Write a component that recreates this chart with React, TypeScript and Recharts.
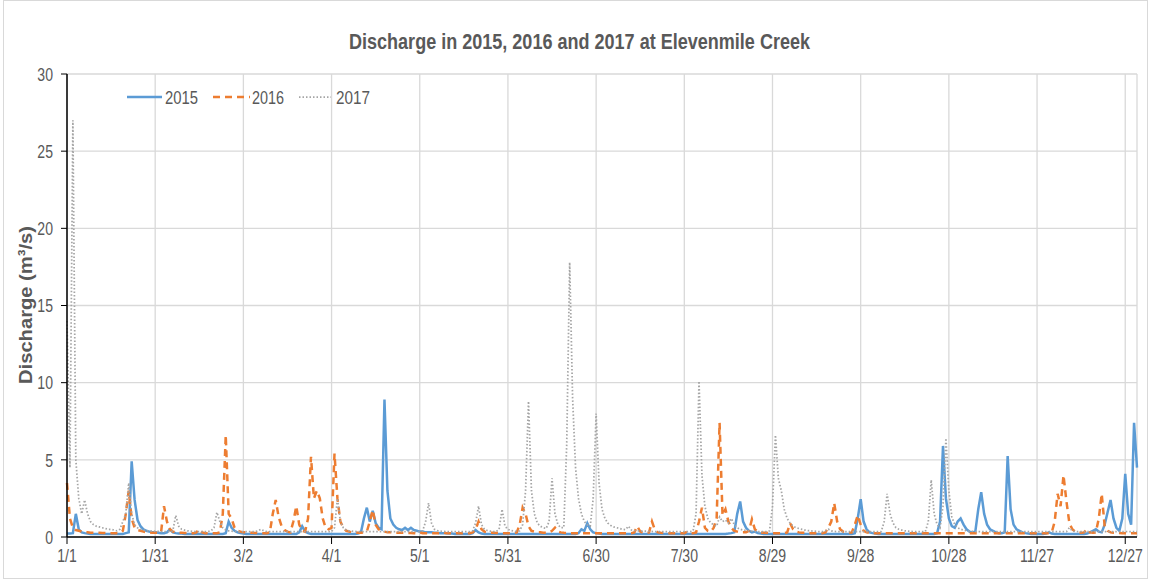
import { LineChart, Line, XAxis, YAxis, CartesianGrid } from "recharts";

// daily discharge (m3/s), day 0 = 1/1
const s2015 = [
  /*0*/ 0.22, 0.22, 0.25, 1.5, 0.5, 0.3, 0.25, 0.22, 0.2, 0.2,
  /*10*/ 0.2, 0.2, 0.2, 0.2, 0.2, 0.2, 0.2, 0.2, 0.2, 0.2,
  /*20*/ 0.25, 0.3, 4.9, 2.4, 1.1, 0.7, 0.5, 0.4, 0.35, 0.3,
  /*30*/ 0.3, 0.28, 0.25, 0.25, 0.3, 0.5, 0.3, 0.25, 0.22, 0.22,
  /*40*/ 0.2, 0.2, 0.2, 0.2, 0.2, 0.2, 0.2, 0.2, 0.2, 0.2,
  /*50*/ 0.2, 0.2, 0.2, 0.2, 0.25, 1.0, 0.6, 0.4, 0.3, 0.25,
  /*60*/ 0.22, 0.2, 0.2, 0.2, 0.2, 0.2, 0.2, 0.2, 0.2, 0.2,
  /*70*/ 0.2, 0.2, 0.2, 0.2, 0.2, 0.2, 0.2, 0.2, 0.2, 0.3,
  /*80*/ 0.7, 0.35, 0.25, 0.2, 0.2, 0.2, 0.2, 0.2, 0.2, 0.2,
  /*90*/ 0.2, 0.2, 0.2, 0.2, 0.2, 0.2, 0.2, 0.2, 0.2, 0.22,
  /*100*/ 0.3, 1.2, 1.9, 1.0, 1.7, 0.9, 0.6, 0.5, 8.9, 3.0,
  /*110*/ 1.2, 0.8, 0.6, 0.5, 0.45, 0.6, 0.45, 0.6, 0.45, 0.4,
  /*120*/ 0.35, 0.35, 0.3, 0.3, 0.3, 0.28, 0.28, 0.25, 0.25, 0.25,
  /*130*/ 0.22, 0.22, 0.2, 0.2, 0.2, 0.2, 0.2, 0.2, 0.25, 0.45,
  /*140*/ 0.3, 0.22, 0.2, 0.2, 0.2, 0.2, 0.2, 0.2, 0.2, 0.2,
  /*150*/ 0.2, 0.2, 0.2, 0.2, 0.2, 0.2, 0.2, 0.2, 0.2, 0.2,
  /*160*/ 0.2, 0.2, 0.2, 0.2, 0.2, 0.2, 0.2, 0.2, 0.2, 0.2,
  /*170*/ 0.2, 0.2, 0.2, 0.2, 0.25, 0.5, 0.4, 0.9, 0.5, 0.3,
  /*180*/ 0.25, 0.22, 0.2, 0.2, 0.2, 0.2, 0.2, 0.2, 0.2, 0.2,
  /*190*/ 0.2, 0.2, 0.2, 0.2, 0.2, 0.2, 0.2, 0.2, 0.2, 0.2,
  /*200*/ 0.2, 0.2, 0.2, 0.2, 0.2, 0.2, 0.2, 0.2, 0.2, 0.2,
  /*210*/ 0.2, 0.2, 0.2, 0.2, 0.2, 0.2, 0.2, 0.2, 0.2, 0.2,
  /*220*/ 0.2, 0.2, 0.2, 0.2, 0.2, 0.22, 0.25, 0.3, 1.5, 2.3,
  /*230*/ 1.0, 0.6, 0.4, 0.3, 0.35, 0.25, 0.22, 0.2, 0.2, 0.2,
  /*240*/ 0.2, 0.2, 0.2, 0.2, 0.2, 0.2, 0.2, 0.2, 0.2, 0.2,
  /*250*/ 0.2, 0.2, 0.2, 0.2, 0.2, 0.2, 0.2, 0.2, 0.2, 0.2,
  /*260*/ 0.2, 0.2, 0.2, 0.2, 0.2, 0.2, 0.2, 0.2, 0.25, 1.2,
  /*270*/ 2.45, 1.0, 0.5, 0.3, 0.25, 0.22, 0.2, 0.2, 0.2, 0.2,
  /*280*/ 0.2, 0.2, 0.2, 0.2, 0.2, 0.2, 0.2, 0.2, 0.2, 0.2,
  /*290*/ 0.2, 0.2, 0.2, 0.2, 0.2, 0.2, 0.25, 1.0, 5.9, 2.5,
  /*300*/ 1.2, 0.7, 0.6, 1.0, 1.2, 0.8, 0.5, 0.35, 0.3, 0.35,
  /*310*/ 1.8, 2.9, 1.5, 0.8, 0.5, 0.4, 0.3, 0.25, 0.25, 0.3,
  /*320*/ 5.25, 1.8, 0.8, 0.5, 0.4, 0.3, 0.25, 0.22, 0.2, 0.2,
  /*330*/ 0.2, 0.2, 0.2, 0.22, 0.3, 0.22, 0.2, 0.2, 0.2, 0.2,
  /*340*/ 0.2, 0.2, 0.2, 0.2, 0.2, 0.2, 0.2, 0.22, 0.3, 0.4,
  /*350*/ 0.5, 0.35, 0.3, 0.8, 1.6, 2.4, 1.2, 0.6, 0.4, 1.2,
  /*360*/ 4.1, 1.5, 0.8, 7.4, 4.5,
];

const s2016 = [
  /*0*/ 3.5, 1.2, 0.6, 0.45, 0.4, 0.35, 0.3, 0.3, 0.28, 0.28,
  /*10*/ 0.27, 0.27, 0.26, 0.26, 0.25, 0.25, 0.25, 0.25, 0.25, 0.4,
  /*20*/ 1.5, 3.0, 1.2, 0.6, 0.45, 0.4, 0.35, 0.3, 0.3, 0.28,
  /*30*/ 0.28, 0.27, 0.3, 2.0, 1.0, 0.5, 0.35, 0.3, 0.28, 0.27,
  /*40*/ 0.26, 0.25, 0.25, 0.25, 0.3, 0.5, 0.3, 0.25, 0.25, 0.25,
  /*50*/ 0.25, 0.25, 0.3, 1.5, 6.6, 1.5, 1.2, 0.6, 0.4, 0.35,
  /*60*/ 0.3, 0.3, 0.28, 0.27, 0.26, 0.25, 0.25, 0.25, 0.25, 0.3,
  /*70*/ 1.5, 2.4, 1.3, 0.7, 0.45, 0.35, 0.3, 1.0, 2.0, 0.8,
  /*80*/ 0.4, 0.35, 1.2, 5.2, 2.5, 3.0, 2.5, 1.2, 0.6, 0.5,
  /*90*/ 0.6, 5.4, 2.5, 1.0, 0.6, 0.4, 0.35, 0.3, 0.3, 0.28,
  /*100*/ 0.28, 0.3, 0.35, 1.0, 1.75, 0.8, 0.5, 0.4, 0.35, 0.3,
  /*110*/ 0.3, 0.3, 0.28, 0.28, 0.27, 0.27, 0.26, 0.26, 0.25, 0.25,
  /*120*/ 0.3, 0.25, 0.25, 0.25, 0.25, 0.25, 0.25, 0.25, 0.3, 0.25,
  /*130*/ 0.25, 0.25, 0.25, 0.25, 0.25, 0.25, 0.25, 0.25, 0.3, 0.5,
  /*140*/ 1.0, 0.5, 0.35, 0.3, 0.28, 0.27, 0.26, 0.25, 0.25, 0.25,
  /*150*/ 0.25, 0.25, 0.25, 0.3, 0.8, 1.9, 1.5, 0.7, 0.4, 0.35,
  /*160*/ 0.3, 0.3, 0.28, 0.27, 0.3, 0.4, 0.6, 0.35, 0.3, 0.27,
  /*170*/ 0.26, 0.25, 0.25, 0.25, 0.25, 0.25, 0.25, 0.25, 0.25, 0.25,
  /*180*/ 0.25, 0.25, 0.25, 0.25, 0.25, 0.25, 0.25, 0.25, 0.25, 0.25,
  /*190*/ 0.25, 0.25, 0.25, 0.3, 0.7, 0.35, 0.27, 0.25, 0.3, 1.0,
  /*200*/ 0.45, 0.3, 0.27, 0.25, 0.25, 0.25, 0.25, 0.25, 0.25, 0.25,
  /*210*/ 0.25, 0.35, 0.25, 0.25, 0.3, 1.0, 1.9, 0.6, 0.4, 0.35,
  /*220*/ 0.6, 1.2, 7.4, 1.4, 1.8, 1.0, 0.6, 0.4, 0.35, 0.3,
  /*230*/ 0.3, 0.3, 0.4, 1.15, 0.5, 0.35, 0.3, 0.28, 0.27, 0.26,
  /*240*/ 0.25, 0.25, 0.25, 0.25, 0.25, 0.3, 0.9, 0.5, 0.35, 0.3,
  /*250*/ 0.28, 0.27, 0.26, 0.25, 0.25, 0.25, 0.25, 0.25, 0.3, 0.6,
  /*260*/ 1.0, 2.2, 1.0, 0.5, 0.35, 0.3, 0.28, 0.3, 0.8, 1.4,
  /*270*/ 0.8, 0.4, 0.3, 0.27, 0.25, 0.25, 0.25, 0.25, 0.25, 0.25,
  /*280*/ 0.25, 0.25, 0.25, 0.25, 0.25, 0.25, 0.25, 0.25, 0.25, 0.25,
  /*290*/ 0.25, 0.25, 0.25, 0.25, 0.25, 0.25, 0.25, 0.25, 0.25, 0.25,
  /*300*/ 0.25, 0.25, 0.25, 0.25, 0.25, 0.25, 0.25, 0.25, 0.25, 0.25,
  /*310*/ 0.25, 0.25, 0.25, 0.25, 0.25, 0.25, 0.25, 0.25, 0.25, 0.25,
  /*320*/ 0.25, 0.25, 0.25, 0.25, 0.25, 0.25, 0.25, 0.25, 0.25, 0.25,
  /*330*/ 0.25, 0.25, 0.25, 0.25, 0.25, 0.3, 1.0, 2.8, 2.0, 4.0,
  /*340*/ 2.3, 0.9, 0.5, 0.35, 0.3, 0.28, 0.3, 0.5, 0.3, 0.27,
  /*350*/ 0.3, 1.2, 2.8, 0.7, 0.4, 0.3, 0.28, 0.27, 0.26, 0.25,
  /*360*/ 0.25, 0.25, 0.25, 0.25, 0.25,
];

const s2017 = [
  /*0*/ 14, 4.5, 27, 5, 2.5, 1.5, 2.4, 1.5, 1.0, 0.8,
  /*10*/ 0.7, 0.65, 0.6, 0.55, 0.5, 0.5, 0.45, 0.4, 0.5, 1.0,
  /*20*/ 1.5, 3.5, 1.5, 0.8, 0.6, 0.5, 0.45, 0.4, 0.4, 0.38,
  /*30*/ 0.37, 0.36, 0.35, 0.35, 0.35, 0.35, 0.4, 1.4, 0.7, 0.5,
  /*40*/ 0.45, 0.4, 0.38, 0.36, 0.35, 0.35, 0.35, 0.35, 0.35, 0.4,
  /*50*/ 0.6, 1.6, 1.0, 0.6, 0.45, 0.4, 0.38, 0.36, 0.35, 0.35,
  /*60*/ 0.35, 0.35, 0.35, 0.35, 0.35, 0.4, 0.5, 0.4, 0.35, 0.35,
  /*70*/ 0.35, 0.35, 0.35, 0.35, 0.35, 0.35, 0.35, 0.35, 0.35, 0.35,
  /*80*/ 0.35, 0.35, 0.35, 0.35, 0.35, 0.35, 0.35, 0.35, 0.35, 0.35,
  /*90*/ 0.35, 0.6, 2.5, 1.0, 0.6, 0.45, 0.4, 0.38, 0.36, 0.35,
  /*100*/ 0.35, 0.35, 0.35, 0.35, 0.35, 0.35, 0.35, 0.35, 0.35, 0.35,
  /*110*/ 0.35, 0.35, 0.35, 0.35, 0.35, 0.35, 0.35, 0.35, 0.35, 0.35,
  /*120*/ 0.35, 0.4, 1.0, 2.2, 0.9, 0.5, 0.42, 0.38, 0.36, 0.35,
  /*130*/ 0.35, 0.35, 0.35, 0.35, 0.35, 0.35, 0.35, 0.35, 0.4, 0.9,
  /*140*/ 2.0, 0.8, 0.5, 0.42, 0.38, 0.36, 0.35, 0.5, 1.8, 0.7,
  /*150*/ 0.5, 0.42, 0.38, 0.36, 0.4, 0.8, 3.0, 8.8, 3.0, 1.5,
  /*160*/ 0.9, 0.7, 0.6, 0.55, 1.0, 3.8, 1.5, 0.8, 0.6, 0.6,
  /*170*/ 6.0, 17.8, 9.0, 4.5, 2.5, 1.5, 1.0, 0.8, 0.7, 2.5,
  /*180*/ 8.0, 3.5, 1.8, 1.2, 0.9, 0.75, 0.65, 0.6, 0.55, 0.5,
  /*190*/ 0.48, 0.7, 0.45, 0.42, 0.4, 0.4, 0.38, 0.38, 0.36, 0.36,
  /*200*/ 0.35, 0.35, 0.35, 0.35, 0.35, 0.35, 0.35, 0.35, 0.35, 0.35,
  /*210*/ 0.35, 0.35, 0.35, 0.4, 1.5, 10.1, 4.0, 2.0, 1.2, 0.9,
  /*220*/ 0.8, 0.7, 1.3, 1.0, 1.1, 0.9, 1.2, 0.8, 0.6, 0.5,
  /*230*/ 0.45, 0.42, 0.4, 0.38, 0.36, 0.35, 0.35, 0.35, 0.35, 0.4,
  /*240*/ 2.0, 6.6, 3.8, 3.0, 1.8, 1.2, 0.9, 0.7, 0.6, 0.55,
  /*250*/ 0.5, 0.45, 0.42, 0.4, 0.38, 0.36, 0.35, 0.35, 0.4, 0.5,
  /*260*/ 0.4, 0.36, 0.35, 0.35, 0.35, 0.35, 0.35, 0.35, 0.35, 0.35,
  /*270*/ 0.35, 0.35, 0.35, 0.35, 0.35, 0.35, 0.35, 0.35, 1.0, 2.8,
  /*280*/ 1.5, 0.9, 0.6, 0.5, 0.45, 0.4, 0.38, 0.36, 0.35, 0.35,
  /*290*/ 0.35, 0.35, 0.35, 1.0, 3.7, 1.5, 0.8, 0.6, 2.0, 6.4,
  /*300*/ 3.0, 1.3, 0.8, 0.6, 0.5, 0.45, 0.4, 0.38, 0.36, 0.35,
  /*310*/ 0.35, 0.35, 0.35, 0.35, 0.35, 0.35, 0.35, 0.35, 0.35, 0.35,
  /*320*/ 0.35, 0.35, 0.35, 0.35, 0.35, 0.35, 0.35, 0.35, 0.35, 0.35,
  /*330*/ 0.35, 0.35, 0.35, 0.35, 0.35, 0.35, 0.35, 0.35, 0.35, 0.35,
  /*340*/ 0.35, 0.6, 0.4, 0.35, 0.35, 0.35, 0.35, 0.35, 0.35, 0.35,
  /*350*/ 0.35, 0.35, 0.35, 0.35, 0.35, 0.35, 0.35, 0.35, 0.35, 0.35,
  /*360*/ 0.35, 0.35, 0.35, 0.35, 0.35,
];

const xTicks = [0, 30, 60, 90, 120, 150, 180, 210, 240, 270, 300, 330, 360];
const xTickLabels = ["1/1", "1/31", "3/2", "4/1", "5/1", "5/31", "6/30", "7/30", "8/29", "9/28", "10/28", "11/27", "12/27"];
const yTicks = [0, 5, 10, 15, 20, 25, 30];
const yMinorTicks = [2.5, 7.5, 12.5, 17.5, 22.5, 27.5];

const FONT = '"Liberation Sans", Arial, sans-serif';
const TEXT = "#595959";
const SQUEEZE = 0.74; // narrow the glyphs to mimic a condensed face

const data = s2015.map((v, i) => ({ day: i, y2015: v, y2016: s2016[i], y2017: s2017[i] }));

function XTick(props: any) {
  const { x, y, payload } = props;
  return (
    <g transform={`translate(${x},${y}) scale(${SQUEEZE},1)`}>
      <text x={0} y={0} dy="0.71em" textAnchor="middle" fontSize={19} fill={TEXT} fontFamily={FONT}>
        {xTickLabels[xTicks.indexOf(payload.value)]}
      </text>
    </g>
  );
}

function YTick(props: any) {
  const { x, y, payload } = props;
  return (
    <g transform={`translate(${x},${y}) scale(${SQUEEZE},1)`}>
      <text x={0} y={0} dy="0.355em" textAnchor="end" fontSize={19} fill={TEXT} fontFamily={FONT}>
        {payload.value}
      </text>
    </g>
  );
}

export default function App() {
  return (
    <div style={{ position: "relative", width: 1151, height: 583, background: "#fff", fontFamily: FONT }}>
      <style>{"body{margin:0}"}</style>
      <div
        style={{
          position: "absolute",
          left: 3,
          top: 0,
          width: 1143,
          height: 577,
          border: "1px solid #d9d9d9",
        }}
      />
      <LineChart width={1151} height={583} data={data} margin={{ top: 74, right: 14, bottom: 0, left: 0 }}>
        <CartesianGrid stroke="#d9d9d9" strokeWidth={1.3} />
        <XAxis
          dataKey="day"
          type="number"
          domain={[0, 364]}
          ticks={xTicks}
          height={46}
          tickSize={7}
          tickMargin={5}
          axisLine={{ stroke: "#000", strokeWidth: 1.5 }}
          tickLine={{ stroke: "#000" }}
          tick={<XTick />}
        />
        <XAxis xAxisId="top" orientation="top" dataKey="day" type="number" domain={[0, 364]} height={0} tick={false} tickLine={false} axisLine={{ stroke: "#222", strokeWidth: 1.5 }} />
        <YAxis
          domain={[0, 30]}
          ticks={yTicks}
          width={67}
          tickSize={6}
          tickMargin={8}
          axisLine={{ stroke: "#000", strokeWidth: 1.5 }}
          tickLine={{ stroke: "#000" }}
          tick={<YTick />}
        />
        <YAxis yAxisId="minor" mirror domain={[0, 30]} ticks={yMinorTicks} width={4} tickSize={4} axisLine={false} tickLine={{ stroke: "#000" }} tick={() => <g />} />
        <YAxis yAxisId="right" orientation="right" domain={[0, 30]} width={0} tick={false} tickLine={false} axisLine={{ stroke: "#404040", strokeWidth: 2 }} />
        <Line type="linear" dataKey="y2015" stroke="#5B9BD5" strokeWidth={2.5} dot={false} isAnimationActive={false} />
        <Line type="linear" dataKey="y2016" stroke="#ED7D31" strokeWidth={2.5} strokeDasharray="7 5" dot={false} isAnimationActive={false} />
        <Line type="linear" dataKey="y2017" stroke="#A5A5A5" strokeWidth={1.75} strokeDasharray="1.5 2" dot={false} isAnimationActive={false} />
      </LineChart>
      <svg width={1151} height={583} style={{ position: "absolute", left: 0, top: 0, pointerEvents: "none" }}>
        <text x={349} y={49} textLength={461} lengthAdjust="spacingAndGlyphs" fontSize={22} fontWeight="bold" fill={TEXT} fontFamily={FONT}>
          Discharge in 2015, 2016 and 2017 at Elevenmile Creek
        </text>
        <text
          x={32}
          y={384}
          textLength={158}
          lengthAdjust="spacingAndGlyphs"
          fontSize={19}
          fontWeight="bold"
          fill={TEXT}
          fontFamily={FONT}
          transform="rotate(-90 32 384)"
        >
          Discharge (m³/s)
        </text>
        <line x1={127} y1={97} x2={162} y2={97} stroke="#5B9BD5" strokeWidth={2.5} />
        <text x={165} y={104} textLength={33} lengthAdjust="spacingAndGlyphs" fontSize={19} fill={TEXT} fontFamily={FONT}>2015</text>
        <line x1={213} y1={97} x2={250} y2={97} stroke="#ED7D31" strokeWidth={2.5} strokeDasharray="7 5" />
        <text x={252} y={104} textLength={32} lengthAdjust="spacingAndGlyphs" fontSize={19} fill={TEXT} fontFamily={FONT}>2016</text>
        <line x1={299} y1={97} x2={331} y2={97} stroke="#A5A5A5" strokeWidth={1.75} strokeDasharray="1.5 2" />
        <text x={336} y={104} textLength={34} lengthAdjust="spacingAndGlyphs" fontSize={19} fill={TEXT} fontFamily={FONT}>2017</text>
      </svg>
    </div>
  );
}
